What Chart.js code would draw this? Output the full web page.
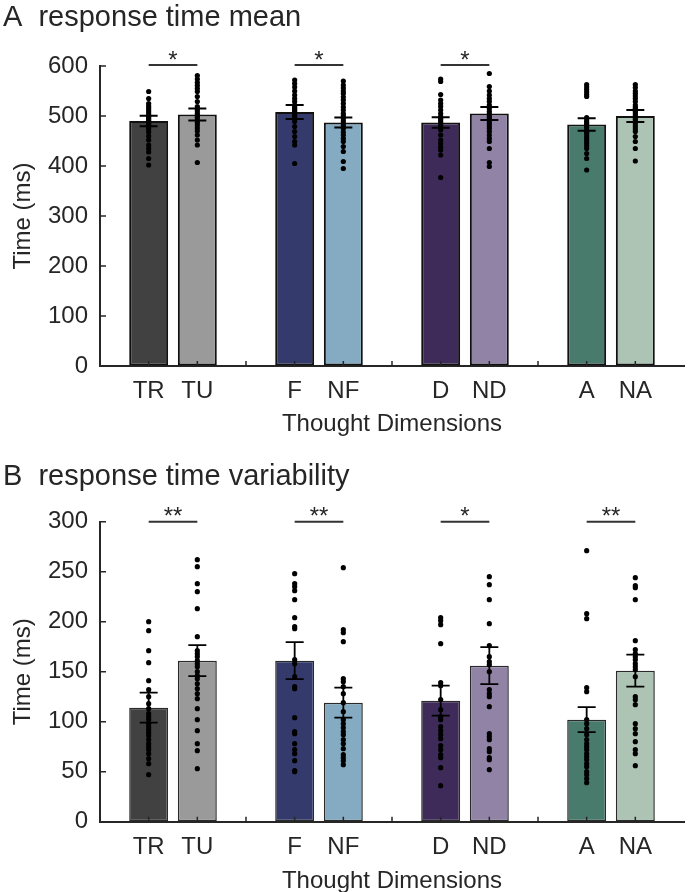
<!DOCTYPE html>
<html>
<head>
<meta charset="utf-8">
<script src="https://cdn.jsdelivr.net/npm/chart.js@4"></script>
<style>
  html, body { margin: 0; padding: 0; background: #fff; }
  .panel { position: absolute; left: 0; width: 688px; height: 446px; }
</style>
</head>
<body>
<div class="panel" style="top:0"><canvas id="meanChart" width="688" height="446"></canvas></div>
<div class="panel" style="top:446px"><canvas id="varChart" width="688" height="446"></canvas></div>
<script>
const conditions = ['TR', 'TU', 'F', 'NF', 'D', 'ND', 'A', 'NA'];
const positions = [0, 1, 3, 4, 6, 7, 9, 10];
const tickLabels = ['TR', 'TU', '', 'F', 'NF', '', 'D', 'ND', '', 'A', 'NA'];
const barColors = ['#414141', '#9a9a9a', '#343b6c', '#84abc2', '#3e2b5a', '#9183a5', '#487b6c', '#adc3b4'];

// A: response time mean (ms)
const rtMean = [490, 503, 508, 487, 487, 505, 483, 500];
const rtSem = [10.5, 12, 14, 10, 10.5, 13, 12.5, 12];
const rtSubjects = [
  [549, 535, 525, 520, 516, 512, 508, 504, 500, 497, 494, 491, 488, 485, 482, 478, 474, 468, 460, 452, 442, 435, 428, 415, 402],
  [581, 574, 567, 561, 555, 549, 539, 529, 519, 514, 510, 505, 501, 497, 492, 487, 482, 476, 470, 462, 452, 442, 407],
  [572, 565, 558, 550, 542, 535, 529, 522, 518, 515, 512, 509, 505, 502, 498, 495, 489, 479, 469, 459, 449, 442, 405],
  [570, 562, 556, 550, 545, 538, 532, 525, 518, 512, 505, 500, 495, 490, 485, 480, 475, 468, 462, 455, 449, 439, 429, 409, 395],
  [574, 569, 543, 532, 525, 519, 512, 505, 499, 495, 492, 488, 485, 481, 477, 472, 462, 452, 445, 438, 432, 422, 377],
  [585, 559, 550, 542, 535, 529, 522, 515, 509, 504, 499, 495, 490, 485, 480, 475, 469, 462, 455, 449, 435, 407, 399],
  [563, 558, 553, 548, 543, 539, 497, 492, 488, 485, 481, 477, 472, 468, 465, 460, 455, 450, 445, 440, 435, 425, 415, 392],
  [563, 557, 550, 545, 540, 535, 529, 522, 518, 515, 511, 508, 504, 500, 497, 493, 489, 484, 479, 474, 469, 459, 449, 435, 410]
];
const rtSig = [[0, 1, '*'], [2, 3, '*'], [4, 5, '*']];

// B: response time variability (ms)
const varMean = [114, 161, 161, 119, 121, 156, 102, 151];
const varSem = [15, 15.5, 18.5, 15, 15, 18.5, 12.5, 16];
const varSubjects = [
  [200, 191, 171, 159, 141, 132, 125, 118, 113, 108, 105, 102, 98, 95, 92, 89, 86, 82, 78, 75, 72, 68, 63, 58, 47],
  [262, 255, 238, 230, 213, 185, 171, 168, 165, 161, 158, 155, 150, 146, 143, 138, 133, 128, 123, 113, 102, 91, 78, 71, 53],
  [248, 238, 235, 231, 222, 204, 195, 193, 162, 158, 145, 135, 133, 104, 90, 88, 78, 72, 68, 61, 51, 50],
  [254, 192, 189, 180, 143, 140, 135, 128, 119, 110, 102, 98, 94, 90, 87, 82, 78, 73, 67, 64, 61, 57],
  [204, 201, 197, 178, 139, 136, 122, 112, 105, 102, 95, 91, 87, 83, 76, 72, 67, 64, 54, 36],
  [245, 237, 222, 198, 176, 165, 160, 157, 150, 132, 128, 125, 115, 88, 85, 82, 73, 70, 64, 62, 52],
  [271, 208, 203, 134, 130, 102, 98, 93, 87, 82, 78, 75, 72, 68, 65, 62, 58, 55, 50, 47, 43, 39],
  [244, 236, 234, 222, 181, 172, 168, 165, 162, 158, 155, 152, 145, 125, 122, 117, 98, 93, 88, 80, 72, 68, 56]
];
const varSig = [[0, 1, '**'], [2, 3, '**'], [4, 5, '*'], [6, 7, '**']];

const FONT = '"Liberation Sans", Arial, Helvetica, sans-serif';
const TEXT = '#262626';

function makePanel(id, p) {
  // error bars, inward tick marks and significance brackets, all placed from the chart's scales
  const extras = {
    id: 'extras',
    afterDatasetsDraw(chart) {
      const { ctx, chartArea: area, scales: { x, y } } = chart;
      ctx.save();
      ctx.strokeStyle = '#000';
      ctx.lineWidth = p.errWidth;
      p.mean.forEach((m, i) => {
        const cx = x.getPixelForValue(positions[i]);
        const hi = y.getPixelForValue(m + p.sem[i]);
        const lo = y.getPixelForValue(m - p.sem[i]);
        ctx.beginPath();
        ctx.moveTo(cx, hi); ctx.lineTo(cx, lo);
        ctx.moveTo(cx - 9, hi); ctx.lineTo(cx + 9, hi);
        ctx.moveTo(cx - 9, lo); ctx.lineTo(cx + 9, lo);
        ctx.stroke();
      });

      // MATLAB-style ticks pointing into the plot
      ctx.strokeStyle = '#262626';
      ctx.lineWidth = 1.5;
      ctx.beginPath();
      x.ticks.forEach(t => {
        const px = x.getPixelForValue(t.value);
        ctx.moveTo(px, area.bottom); ctx.lineTo(px, area.bottom - 5);
      });
      y.ticks.forEach(t => {
        const py = y.getPixelForValue(t.value);
        ctx.moveTo(area.left, py); ctx.lineTo(area.left + 6, py);
      });
      ctx.stroke();

      ctx.strokeStyle = '#333';
      ctx.lineWidth = 2;
      ctx.fillStyle = TEXT;
      ctx.font = '24px ' + FONT;
      ctx.textAlign = 'center';
      ctx.textBaseline = 'alphabetic';
      const ly = y.getPixelForValue(p.sigLevel);
      p.sig.forEach(([a, b, mark]) => {
        const x1 = x.getPixelForValue(positions[a]);
        const x2 = x.getPixelForValue(positions[b]);
        ctx.beginPath();
        ctx.moveTo(x1, ly); ctx.lineTo(x2, ly);
        ctx.stroke();
        ctx.fillText(mark, (x1 + x2) / 2, ly + 2.5);
      });
      ctx.restore();
    }
  };

  return new Chart(document.getElementById(id), {
    type: 'bar',
    data: {
      datasets: [
        {
          type: 'bar',
          data: p.mean.map((m, i) => ({ x: positions[i], y: m })),
          backgroundColor: barColors,
          borderColor: p.edge,
          borderWidth: p.edgeWidth,
          borderSkipped: false,
          barPercentage: 1,
          categoryPercentage: 0.8,
          order: 2
        },
        {
          type: 'scatter',
          data: p.subjects.flatMap((vals, i) => vals.map(v => ({ x: positions[i], y: v }))),
          pointRadius: 2.6,
          pointBackgroundColor: '#000',
          pointBorderWidth: 0,
          order: 1
        }
      ]
    },
    options: {
      responsive: false,
      animation: false,
      layout: { padding: { left: 3, right: 0, top: 0, bottom: 0 } },
      plugins: {
        legend: { display: false },
        tooltip: { enabled: false },
        title: {
          display: true,
          text: p.title,
          align: 'start',
          color: TEXT,
          font: { family: FONT, size: 29, weight: 'normal' },
          padding: p.titlePad
        }
      },
      scales: {
        x: {
          type: 'linear',
          min: -1,
          max: 11,
          offset: false,
          afterBuildTicks: s => { s.ticks = tickLabels.map((_, i) => ({ value: i })); },
          afterFit: s => { s.height = p.xAxisHeight; },
          ticks: {
            autoSkip: false,
            maxRotation: 0,
            padding: 11,
            color: TEXT,
            font: { family: FONT, size: 24 },
            callback: v => tickLabels[v] ?? ''
          },
          grid: { display: true, drawOnChartArea: false, drawTicks: false, offset: false },
          border: { color: '#262626', width: 2 },
          title: {
            display: true,
            text: 'Thought Dimensions',
            color: TEXT,
            font: { family: FONT, size: 24 },
            padding: { top: 0, bottom: p.xTitlePad }
          }
        },
        y: {
          min: 0,
          max: p.yMax,
          afterFit: s => { s.width = 97; },
          ticks: {
            stepSize: p.yStep,
            padding: 12,
            color: TEXT,
            font: { family: FONT, size: 24 }
          },
          grid: { display: true, drawOnChartArea: false, drawTicks: false },
          border: { color: '#262626', width: 2 },
          title: {
            display: true,
            text: 'Time (ms)',
            color: TEXT,
            font: { family: FONT, size: 24 },
            padding: { top: 5.6, bottom: 0 }
          }
        }
      }
    },
    plugins: [extras]
  });
}

makePanel('meanChart', {
  title: 'A  response time mean',
  mean: rtMean, sem: rtSem, subjects: rtSubjects, sig: rtSig, sigLevel: 602,
  yMax: 600, yStep: 100,
  titlePad: { top: 1, bottom: 30.2 },
  xAxisHeight: 80, xTitlePad: 6.8,
  edge: '#111', edgeWidth: 2, errWidth: 2
});

makePanel('varChart', {
  title: 'B  response time variability',
  mean: varMean, sem: varSem, subjects: varSubjects, sig: varSig, sigLevel: 300,
  yMax: 300, yStep: 50,
  titlePad: { top: 13.6, bottom: 27.3 },
  xAxisHeight: 70.3, xTitlePad: -4,
  edge: '#2a2a2a', edgeWidth: 1.5, errWidth: 1.8
});
</script>
</body>
</html>
